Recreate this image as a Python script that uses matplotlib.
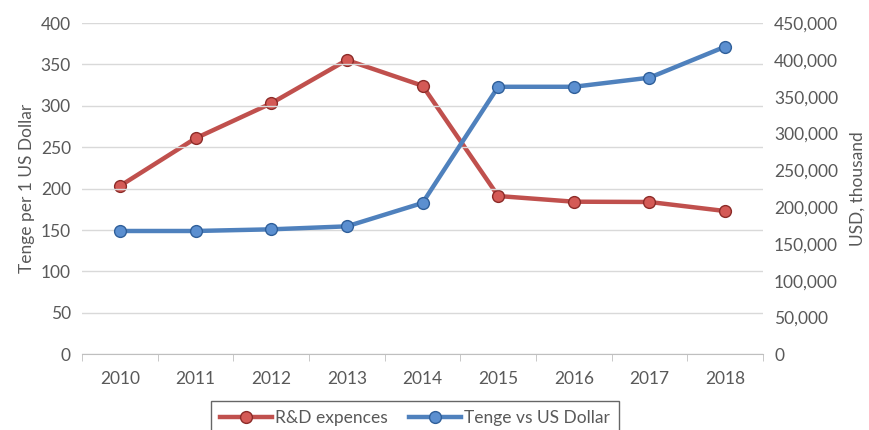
import matplotlib.pyplot as plt
import numpy as np

plt.rcParams['font.family'] = ['Lato', 'DejaVu Sans']

years = ["2010", "2011", "2012", "2013", "2014", "2015", "2016", "2017", "2018"]
rd_expences = [228600, 293400, 340900, 399700, 364800, 215000, 207300, 206900, 194600]
tenge_usd = [148.9, 148.9, 150.9, 154.5, 182.7, 323, 323, 334, 371.4]

left_ticks = [0, 50, 100, 150, 200, 250, 300, 350, 400]
right_ticks = [0, 50000, 100000, 150000, 200000, 250000, 300000, 350000, 400000, 450000]

red = "#c0504d"
blue = "#4f81bd"
grey = "#595959"

fig = plt.figure(figsize=(8.7, 4.3), dpi=100)
ax = fig.add_axes([0.0943, 0.176, 0.7827, 0.7705])
ax2 = ax.twinx()

x = np.arange(len(years))

# blue on the left axis, red on the right one
ax.plot(x, tenge_usd, color=blue, lw=3.2, marker="o", markersize=8.5,
        markerfacecolor="#5b8fd0", markeredgecolor="#2f5f9a", markeredgewidth=1,
        label="Tenge vs US Dollar", zorder=3)
ax2.plot(x, rd_expences, color=red, lw=3.2, marker="o", markersize=8.5,
         markerfacecolor="#d45a56", markeredgecolor="#8c2b28", markeredgewidth=1,
         label="R&D expences", zorder=2)
ax.set_zorder(ax2.get_zorder() + 1)
ax.patch.set_visible(False)

ax.set_ylim(0, 400)
ax2.set_ylim(0, 450000)
ax.set_xlim(-0.5, len(years) - 0.5)
ax.set_yticks(left_ticks)
ax2.set_yticks(right_ticks)
ax2.set_yticklabels([f"{v:,}" for v in right_ticks])
ax.set_xticks(x)
ax.set_xticklabels(years)
ax.set_xticks(np.arange(-0.5, len(years), 1), minor=True)

ax.grid(axis="y", color="#d9d9d9", lw=1)
ax.set_axisbelow(True)

for a in (ax, ax2):
    for s in ("left", "right", "top"):
        a.spines[s].set_visible(False)
    a.spines["bottom"].set_color("#bfbfbf")
    a.tick_params(axis="y", length=0, labelsize=12.5, labelcolor=grey, pad=8)
ax.tick_params(axis="x", which="major", length=0, labelsize=12.5, labelcolor=grey, pad=12)
ax.tick_params(axis="x", which="minor", length=5, color="#bfbfbf", direction="out")
ax2.spines["bottom"].set_visible(False)

ax.set_ylabel("Tenge per 1 US Dollar", fontsize=12.5, color=grey, labelpad=4)
ax2.set_ylabel("USD, thousand", fontsize=12.5, color=grey, labelpad=8)

h1, l1 = ax2.get_legend_handles_labels()
h2, l2 = ax.get_legend_handles_labels()
leg = fig.legend(h1 + h2, l1 + l2, loc="upper left", bbox_to_anchor=(0.2425, 0.0674),
                 ncol=2, fontsize=12.5, frameon=True, fancybox=False,
                 edgecolor="#404040", handlelength=3, columnspacing=1.2,
                 borderpad=0.5, handletextpad=0.2, borderaxespad=0)
leg.get_frame().set_linewidth(1)
for t in leg.get_texts():
    t.set_color(grey)

fig.savefig("out.png", dpi=100)
